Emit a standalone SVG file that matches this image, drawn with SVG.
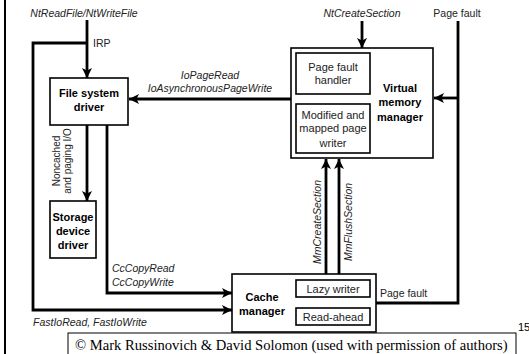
<svg xmlns="http://www.w3.org/2000/svg" width="529" height="354" viewBox="0 0 529 354">
<style>
.box{fill:#fff;stroke:#000;stroke-width:1.6}
.ln{fill:none;stroke:#000;stroke-width:2.8}
.lab{font-family:"Liberation Sans",Arial,sans-serif;font-size:10.5px;font-style:italic;fill:#222}
.reg{font-family:"Liberation Sans",Arial,sans-serif;font-size:10.5px;fill:#222}
.in{font-family:"Liberation Sans",Arial,sans-serif;font-size:11px;fill:#222;text-anchor:middle}
.bold{font-family:"Liberation Sans",Arial,sans-serif;font-size:11px;font-weight:bold;fill:#000;text-anchor:middle}
.mid{text-anchor:middle}
</style>
<defs>
<marker id="ah" markerUnits="userSpaceOnUse" markerWidth="11" markerHeight="10" refX="10" refY="5" orient="auto">
<path d="M0,0 L10,5 L0,10 L2.5,5 z" fill="#000"/>
</marker>
</defs>
<rect width="529" height="354" fill="#fff"/>
<line x1="5" y1="0" x2="5" y2="354" stroke="#000" stroke-width="2"/>
<g id="connectors">
<path class="ln" d="M87,20 V78" marker-end="url(#ah)"/>
<path class="ln" d="M87,43 H33 V310 H232" marker-end="url(#ah)"/>
<path class="ln" d="M87,125 V201" marker-end="url(#ah)"/>
<path class="ln" d="M107,125 V293 H232" marker-end="url(#ah)"/>
<path class="ln" d="M291,99 H129" marker-end="url(#ah)"/>
<path class="ln" d="M362,21 V48" marker-end="url(#ah)"/>
<path class="ln" d="M458,21 V303 H376"/>
<path class="ln" d="M458,98 H434" marker-end="url(#ah)"/>
<path class="ln" d="M326,274 V159" marker-end="url(#ah)"/>
<path class="ln" d="M339,274 V159" marker-end="url(#ah)"/>
<text class="lab mid" x="84" y="17">NtReadFile/NtWriteFile</text>
<text class="reg" x="93" y="47">IRP</text>
<text class="lab mid" x="210" y="79">IoPageRead</text>
<text class="lab mid" x="210" y="92">IoAsynchronousPageWrite</text>
<text class="reg mid" style="font-size:10px" transform="translate(60,161) rotate(-90)">Noncached</text>
<text class="reg mid" style="font-size:10px" transform="translate(71,161) rotate(-90)">and paging I/O</text>
<text class="lab" x="112" y="272">CcCopyRead</text>
<text class="lab" x="112" y="286">CcCopyWrite</text>
<text class="lab" x="33" y="326">FastIoRead, FastIoWrite</text>
<text class="reg" x="380" y="297">Page fault</text>
<text class="lab mid" transform="translate(321,222) rotate(-90)">MmCreateSection</text>
<text class="lab mid" transform="translate(352,222) rotate(-90)">MmFlushSection</text>
<text class="lab mid" x="362" y="17">NtCreateSection</text>
<text class="reg mid" x="457" y="17">Page fault</text>
</g>
<g id="fsd">
<rect class="box" x="50" y="78" width="78" height="47"/>
<text class="bold" x="89" y="97">File system</text>
<text class="bold" x="89" y="111">driver</text>
</g>
<g id="sdd">
<rect class="box" x="50" y="201" width="46" height="57"/>
<text class="bold" x="73" y="221">Storage</text>
<text class="bold" x="73" y="235">device</text>
<text class="bold" x="73" y="249">driver</text>
</g>
<g id="vmm">
<rect class="box" x="291" y="48" width="142" height="110"/>
<text class="bold" x="400" y="92">Virtual</text>
<text class="bold" x="400" y="106">memory</text>
<text class="bold" x="400" y="121">manager</text>
</g>
<g id="pfh">
<rect class="box" x="296" y="53" width="74" height="41"/>
<text class="in" x="333" y="71">Page fault</text>
<text class="in" x="333" y="84">handler</text>
</g>
<g id="mpw">
<rect class="box" x="296" y="104" width="74" height="49"/>
<text class="in" x="333" y="119">Modified and</text>
<text class="in" x="333" y="132">mapped page</text>
<text class="in" x="333" y="147">writer</text>
</g>
<g id="cm">
<rect class="box" x="232" y="274" width="144" height="58"/>
<text class="bold" x="262" y="301">Cache</text>
<text class="bold" x="262" y="315">manager</text>
</g>
<g id="lw">
<rect class="box" x="296" y="280" width="74" height="17"/>
<text class="in" x="333" y="293">Lazy writer</text>
</g>
<g id="ra">
<rect class="box" x="296" y="308" width="74" height="17"/>
<text class="in" x="333" y="321">Read-ahead</text>
</g>
<g id="copyright">
<rect x="68" y="333" width="448" height="30" fill="#fff" stroke="#000" stroke-width="1"/>
<text x="75" y="350" font-family="Liberation Serif,'Times New Roman',serif" font-size="14.6" fill="#000">© Mark Russinovich &amp; David Solomon (used with permission of authors)</text>
</g>
<text x="518" y="331" font-family="Liberation Sans,Arial,sans-serif" font-size="11" fill="#000">15</text>
</svg>
